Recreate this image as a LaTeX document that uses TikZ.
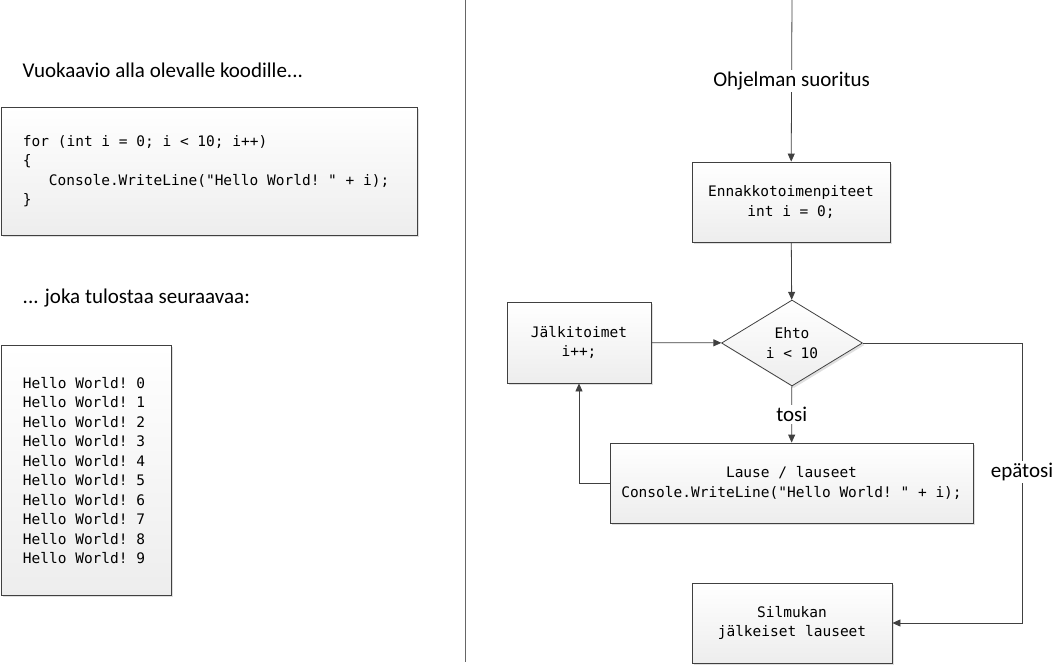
\documentclass[tikz,border=0pt]{standalone}
\usepackage{fontspec}
\setmainfont{Carlito}
\setmonofont{DejaVu Sans Mono}
\usepackage{tikz}
\usetikzlibrary{shapes.geometric, shadows, arrows.meta}

\begin{document}
\begin{tikzpicture}[x=1pt, y=-1pt,
    line width=0.8pt,
    viiva/.style={draw=black!75, -{Triangle[length=8pt,width=7pt]}},
    laatikko/.style={draw=black!75, top color=white, bottom color=black!7,
        drop shadow={shadow xshift=2pt, shadow yshift=-2pt, opacity=0.25},
        font=\fontsize{14.5}{19.5}\selectfont\ttfamily, align=center},
    selite/.style={fill=white, font=\fontsize{21}{25}\selectfont, inner sep=2pt}]

\useasboundingbox (0,0) rectangle (1055,665);

% Vasen puoli
\node[anchor=west, font=\fontsize{21}{25}\selectfont] (otsikko) at (19,70) {Vuokaavio alla olevalle koodille...};
\node[laatikko, anchor=north west, minimum height=128pt, text width=372pt, inner xsep=22pt, align=flush left]
    (koodi) at (0.5,107) {for (int i = 0; i < 10; i++)\\
    \{\\
    \hspace*{26pt}Console.WriteLine("Hello World! " + i);\\
    \}};

\node[anchor=west, font=\fontsize{21}{25}\selectfont] (tuloste) at (19,298) {... joka tulostaa seuraavaa:};
\node[laatikko, anchor=north west, minimum height=250pt, text width=126pt, inner xsep=22pt, align=flush left]
    (tulos) at (0.5,345) {Hello World! 0\\ Hello World! 1\\ Hello World! 2\\ Hello World! 3\\ Hello World! 4\\
    Hello World! 5\\ Hello World! 6\\ Hello World! 7\\ Hello World! 8\\ Hello World! 9};

% Erotin
\draw[black!60] (465,0) -- (465,662);

% Vuokaavio
\coordinate (alku) at (792,0);
\node[laatikko, minimum width=198pt, minimum height=80pt] (ennakko) at (791,202) {Ennakkotoimenpiteet\\ int i = 0;};
\node[laatikko, diamond, minimum width=141pt, minimum height=86pt, aspect=1.64, inner sep=1pt] (ehto) at (792,343) {Ehto\\ i < 10};
\node[laatikko, minimum width=144pt, minimum height=81pt] (jalki) at (579,342.5) {Jälkitoimet\\ i++;};
\node[laatikko, minimum width=363pt, minimum height=80pt] (lause) at (791.5,483) {Lause / lauseet\\ Console.WriteLine("Hello World! " + i);};
\node[laatikko, minimum width=200pt, minimum height=80pt] (silmukka) at (792,623) {Silmukan\\ jälkeiset lauseet};
\coordinate (oikea) at (1022,343);

\draw[viiva] (alku) -- node[selite] {Ohjelman suoritus} (ennakko);
\draw[viiva] (ennakko) -- (ehto);
\draw[viiva] (ehto) -- node[selite] {tosi} (lause);
\draw[viiva] (jalki) -- (ehto);
\draw[viiva] (lause.west) -| (jalki.south);
\draw[viiva] (ehto.east) -- (oikea) |- node[selite, pos=0.23] {epätosi} (silmukka.east);

\end{tikzpicture}
\end{document}
